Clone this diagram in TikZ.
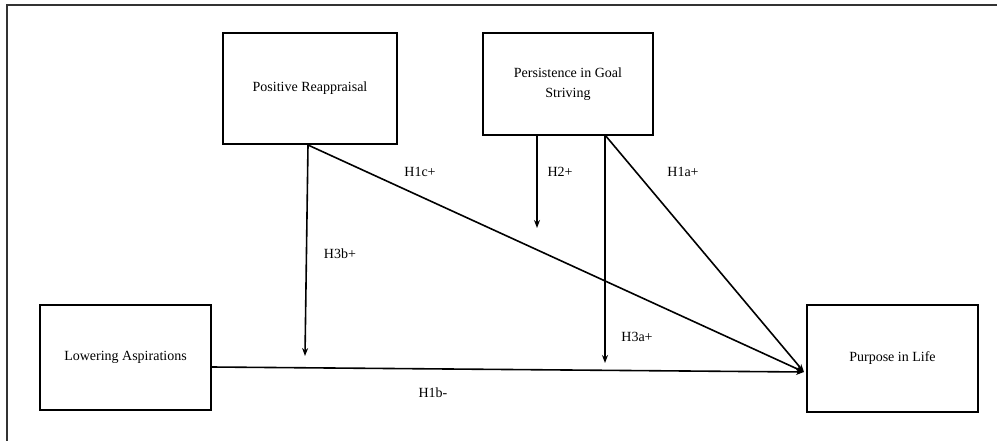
\documentclass[tikz,border=0pt]{standalone}
\usepackage{fontspec}
\setmainfont{Liberation Serif}
\usetikzlibrary{arrows.meta,calc}

\begin{document}
\begin{tikzpicture}[x=1pt,y=-1pt,>={Stealth[length=8pt,width=6pt]},
  box/.style={draw,line width=2pt,inner sep=0pt,align=center,font=\fontsize{14}{20}\selectfont},
  link/.style={->,line width=1.6pt},
  hyp/.style={inner sep=0pt,font=\fontsize{14}{16}\selectfont}]
  \useasboundingbox (0,0) rectangle (997,440);
  % outer frame
  \draw[gray!40!black,line width=1.2pt] (7,445) |- (1002,5);
  % constructs
  \node[box,minimum width=174pt,minimum height=111pt] (pr) at (310,88.5) {Positive Reappraisal};
  \node[box,minimum width=170pt,minimum height=102pt] (pg) at (568,84) {Persistence in Goal\\Striving};
  \node[box,minimum width=171pt,minimum height=105pt] (la) at (125.5,357.5) {Lowering Aspirations};
  \node[box,minimum width=171pt,minimum height=107pt] (pl) at (892.5,358.5) {Purpose in Life};
  % anchor points
  \coordinate (pl in) at ($(pl.west)+(-2,13.5)$);
  \coordinate (la out) at ($(la.east)+(0,9.5)$);
  \coordinate (pr out) at (308,145);
  \coordinate (pg mid) at (605,135);
  \coordinate (h2 end) at (537,228);
  \coordinate (h3b end) at (305,356);
  \coordinate (h3a end) at (605,363);
  % paths
  \draw[link] (la out) -- (pl in);
  \draw[link] (pr out) -- (pl in);
  \draw[link] (pg mid) -- (pl in);
  \draw[link] (pr out) -- (h3b end);
  \draw[link] (pg mid) -- (h3a end);
  \draw[link] (pg.south -| h2 end) -- (h2 end);
  % hypotheses
  \node[hyp] (h1c) at (420,172) {H1c+};
  \node[hyp] (h2) at (560,172) {H2+};
  \node[hyp] (h1a) at (683,172) {H1a+};
  \node[hyp] (h3b) at (340,254) {H3b+};
  \node[hyp] (h3a) at (637,337) {H3a+};
  \node[hyp] (h1b) at (433,393) {H1b-};
\end{tikzpicture}
\end{document}
